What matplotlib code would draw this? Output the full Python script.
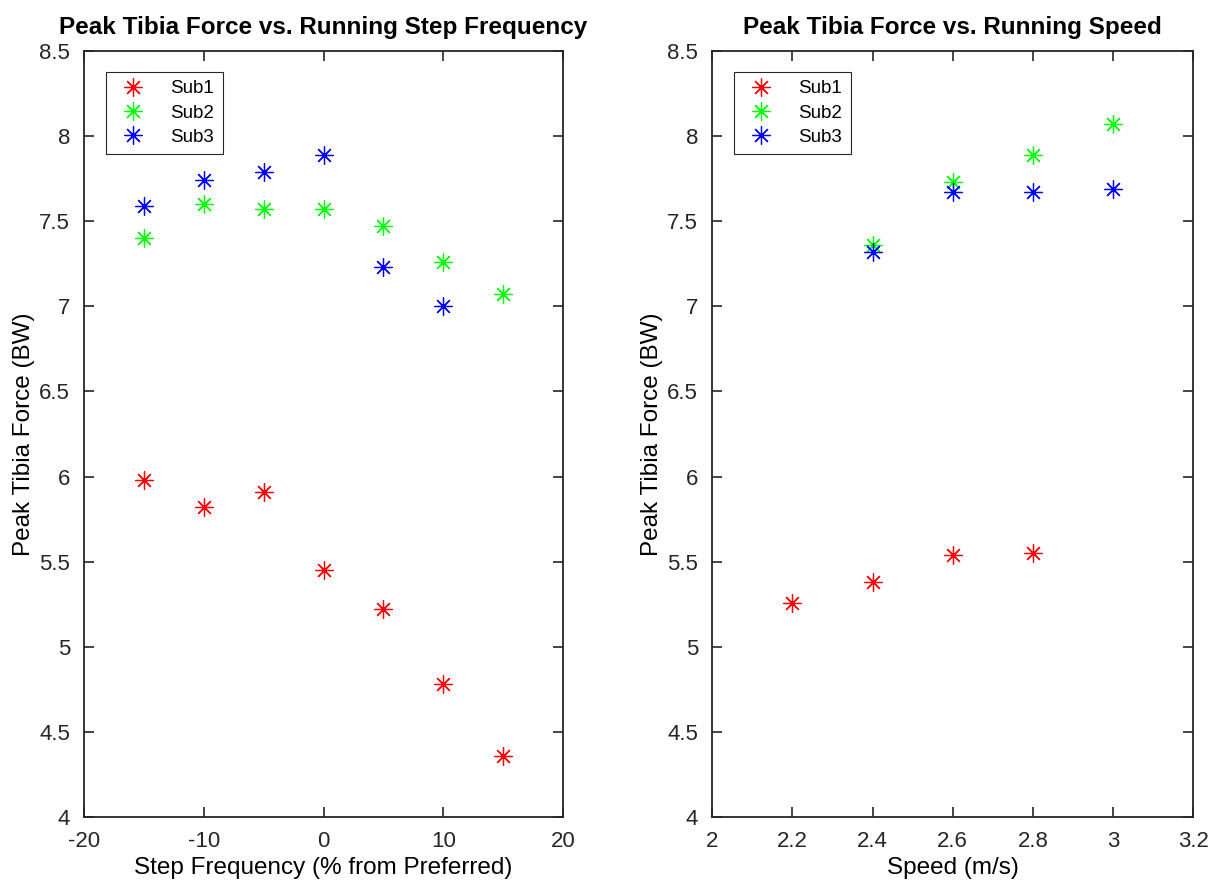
import numpy as np
import matplotlib.pyplot as plt

plt.rcParams['font.family'] = ['Liberation Sans', 'DejaVu Sans']
plt.rcParams['axes.unicode_minus'] = False

# step frequency sweep (% from preferred)
freq = [-15, -10, -5, 0, 5, 10, 15]
freq_sub1 = [5.98, 5.82, 5.91, 5.45, 5.22, 4.78, 4.36]
freq_sub2 = [7.40, 7.60, 7.57, 7.57, 7.47, 7.26, 7.07]
freq_x3 = [-15, -10, -5, 0, 5, 10]
freq_sub3 = [7.59, 7.74, 7.79, 7.89, 7.23, 7.00]

# running speed sweep (m/s)
speed_sub1_x = [2.2, 2.4, 2.6, 2.8]
speed_sub1 = [5.26, 5.38, 5.54, 5.55]
speed_x = [2.4, 2.6, 2.8, 3.0]
speed_sub2 = [7.36, 7.73, 7.89, 8.07]
speed_sub3 = [7.32, 7.67, 7.67, 7.69]

star = (8, 2, 0)
kw = dict(linestyle='none', marker=star, markersize=13, markeredgewidth=0.9)

fig = plt.figure(figsize=(12.11, 8.85), dpi=100)
ax1 = fig.add_axes([0.0694, 0.0768, 0.3955, 0.8655])
ax2 = fig.add_axes([0.588, 0.0768, 0.3975, 0.8655])

ax1.plot(freq, freq_sub1, color='#ff0000', label='Sub1', **kw)
ax1.plot(freq, freq_sub2, color='#00ff00', label='Sub2', **kw)
ax1.plot(freq_x3, freq_sub3, color='#0000ff', label='Sub3', **kw)
ax1.set_xlim(-20, 20)
ax1.set_xticks([-20, -10, 0, 10, 20])
ax1.set_title('Peak Tibia Force vs. Running Step Frequency', fontsize=17.5, fontweight='bold', pad=12)
ax1.set_xlabel('Step Frequency (% from Preferred)', fontsize=17.5, labelpad=4)
ax1.set_ylabel('Peak Tibia Force (BW)', fontsize=17.5, labelpad=3)

ax2.plot(speed_sub1_x, speed_sub1, color='#ff0000', label='Sub1', **kw)
ax2.plot(speed_x, speed_sub2, color='#00ff00', label='Sub2', **kw)
ax2.plot(speed_x, speed_sub3, color='#0000ff', label='Sub3', **kw)
ax2.set_xlim(2, 3.2)
ax2.set_xticks([2, 2.2, 2.4, 2.6, 2.8, 3, 3.2])
ax2.set_xticklabels(['2', '2.2', '2.4', '2.6', '2.8', '3', '3.2'])
ax2.set_title('Peak Tibia Force vs. Running Speed', fontsize=17.5, fontweight='bold', pad=12)
ax2.set_xlabel('Speed (m/s)', fontsize=17.5, labelpad=4)
ax2.set_ylabel('Peak Tibia Force (BW)', fontsize=17.5, labelpad=3)

for ax in (ax1, ax2):
    ax.set_ylim(4, 8.5)
    ax.set_yticks(np.arange(4, 8.51, 0.5))
    ax.set_yticklabels(['4', '4.5', '5', '5.5', '6', '6.5', '7', '7.5', '8', '8.5'])
    ax.tick_params(direction='in', top=True, right=True, length=7, width=1.2,
                   labelsize=16, colors='#262626', pad=10)
    for s in ax.spines.values():
        s.set_linewidth(1.3)
        s.set_color('#262626')
    leg = ax.legend(loc='upper left', bbox_to_anchor=(0.045, 0.973), fontsize=13.5,
                    fancybox=False, framealpha=1, edgecolor='#262626',
                    handletextpad=1.0, handlelength=2.0, borderpad=0.45,
                    labelspacing=0.38, borderaxespad=0)
    leg.get_frame().set_linewidth(0.8)

fig.savefig('out.png', dpi=100, facecolor='w')
